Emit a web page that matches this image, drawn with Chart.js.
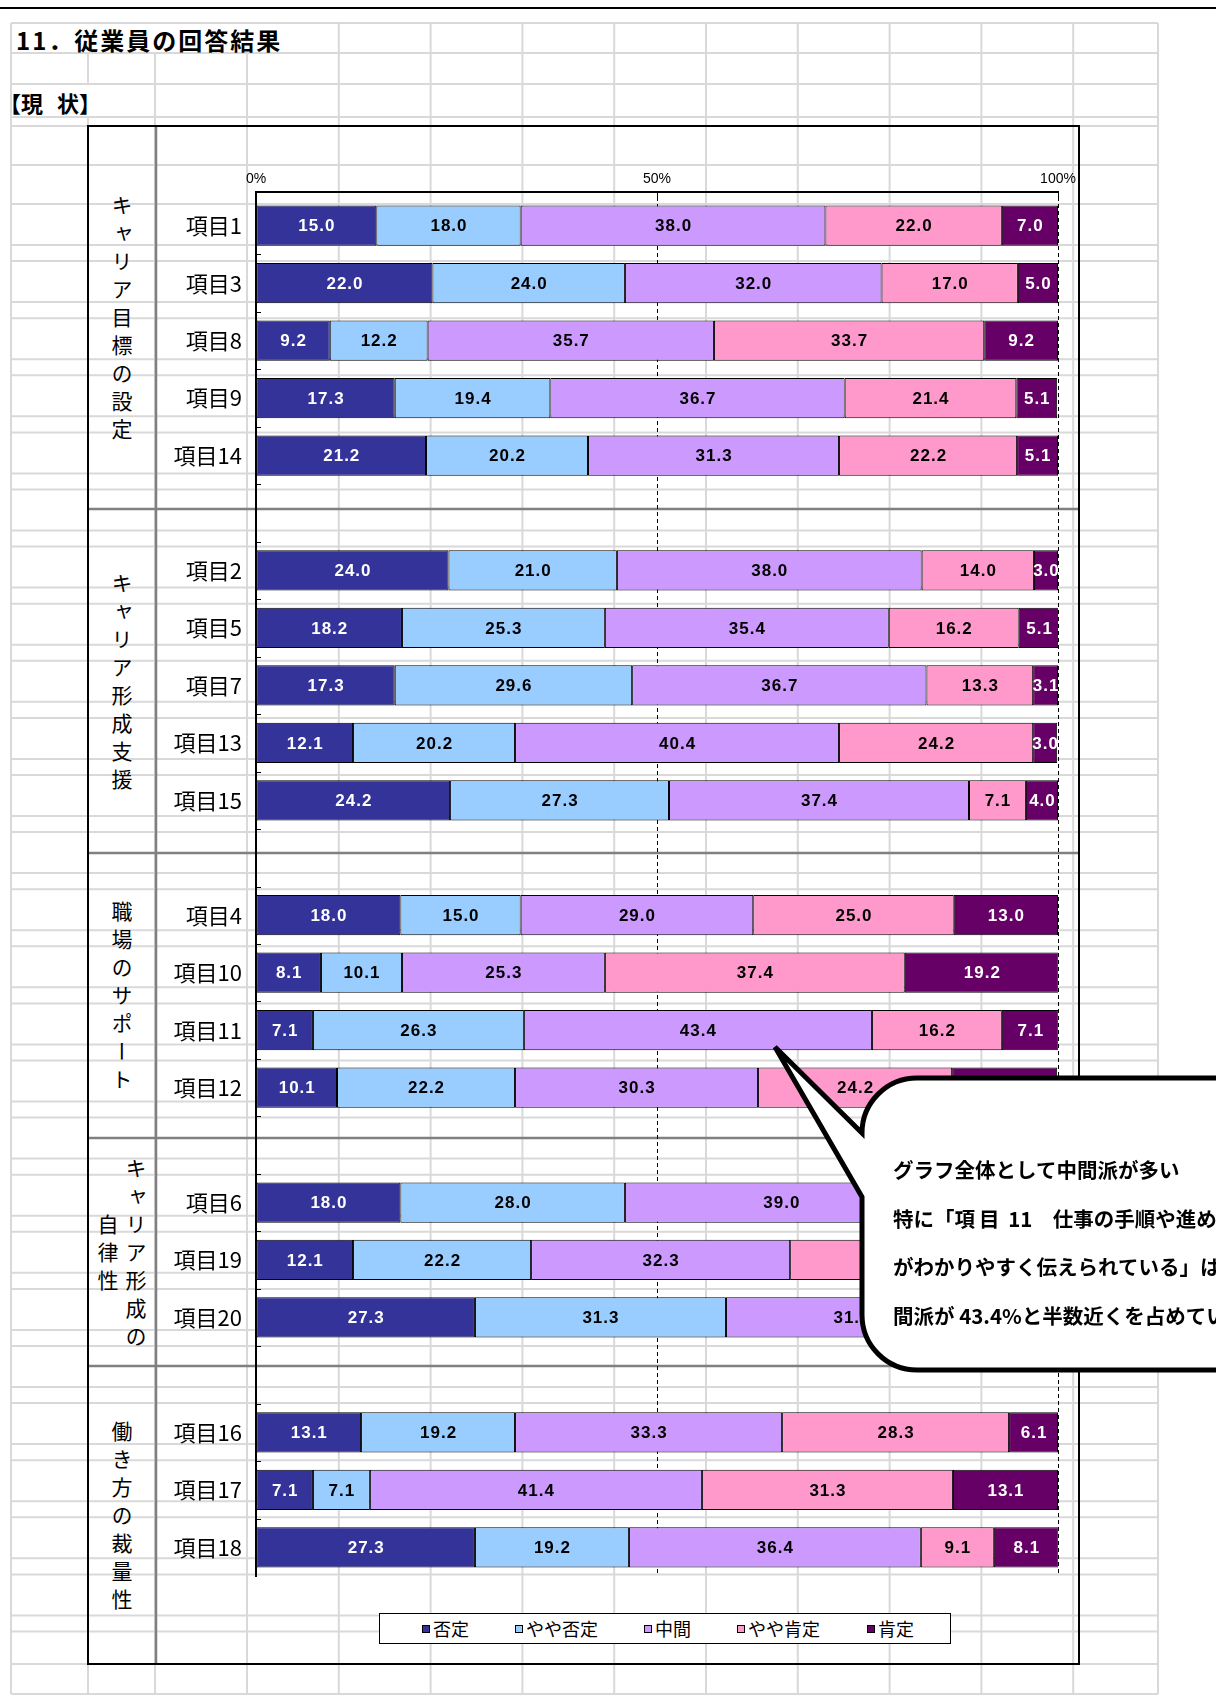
<!DOCTYPE html>
<html lang="ja">
<head>
<meta charset="utf-8">
<title>11. 従業員の回答結果</title>
<script src="https://cdn.jsdelivr.net/npm/chart.js@4.4.1/dist/chart.umd.min.js"></script>
<style>
  html, body { margin: 0; padding: 0; background: #fff; overflow: hidden; }
  #page { position: relative; width: 1216px; height: 1707px; overflow: hidden;
          font-family: 'Noto Sans CJK JP', 'Noto Sans', sans-serif; color: #000; }
  #sheet, #chart, #bubble { position: absolute; left: 0; top: 0; }
  .cell-text { position: absolute; white-space: nowrap; font-weight: bold; }
  #title { left: 16px; top: 26px; font-size: 24px; line-height: 28px; letter-spacing: 2px; }
  #status { left: -1px; top: 88px; font-size: 22px; line-height: 28px; }
  #status .gap { display: inline-block; width: 14px; }
  .group { position: absolute; left: 88px; width: 68px; display: flex; align-items: center; justify-content: center; }
  .group span { writing-mode: vertical-rl; font-size: 21px; letter-spacing: 7px; line-height: 28px;
                text-align: center; margin-top: 7px; }
  #legend { position: absolute; left: 379px; top: 1613px; width: 570px; height: 29px;
            border: 1px solid #000; background: #fff; }
  .lg-item { position: absolute; top: 0; height: 29px; line-height: 29px; font-size: 18px; white-space: nowrap; }
  .lg-item i { display: inline-block; width: 6px; height: 6px; border: 1px solid #000;
               margin-right: 3px; vertical-align: 3px; }
  #note { position: absolute; left: 893px; top: 1145px; font-size: 20.5px; line-height: 48.7px;
          font-weight: bold; white-space: nowrap; }
  #note .wide { letter-spacing: 4px; }
</style>
</head>
<body>
<div id="page">
  <svg id="sheet" width="1216" height="1707"></svg>
  <div id="title" class="cell-text">11．従業員の回答結果</div>
  <div id="status" class="cell-text">【現<span class="gap"></span>状】</div>
  <div id="groups"></div>
  <canvas id="chart" width="1216" height="1707"></canvas>
  <div id="legend"></div>
  <svg id="bubble" width="1216" height="1707">
    <path d="M 775 1047 L 862 1197 L 862 1315 A 55 55 0 0 0 917 1370 L 1240 1370 L 1240 1078 L 917 1078 A 55 55 0 0 0 862 1133 Z"
          fill="#fff" stroke="#000" stroke-width="5" stroke-linejoin="miter"/>
  </svg>
  <div id="note">グラフ全体として中間派が多い<br>特に「<span class="wide">項目</span> 11　仕事の手順や進め方<br>がわかりやすく伝えられている」は、中<br>間派が 43.4%と半数近くを占めている。</div>
</div>
<script>
'use strict';

// ── Data ──
const categories = [
  '項目1', '項目3', '項目8', '項目9', '項目14', '',
  '項目2', '項目5', '項目7', '項目13', '項目15', '',
  '項目4', '項目10', '項目11', '項目12', '',
  '項目6', '項目19', '項目20', '',
  '項目16', '項目17', '項目18'
];
const seriesNames = ['否定', 'やや否定', '中間', 'やや肯定', '肯定'];
const negative     = [15.0, 22.0,  9.2, 17.3, 21.2, null, 24.0, 18.2, 17.3, 12.1, 24.2, null, 18.0,  8.1,  7.1, 10.1, null, 18.0, 12.1, 27.3, null, 13.1,  7.1, 27.3];
const slightlyNeg  = [18.0, 24.0, 12.2, 19.4, 20.2, null, 21.0, 25.3, 29.6, 20.2, 27.3, null, 15.0, 10.1, 26.3, 22.2, null, 28.0, 22.2, 31.3, null, 19.2,  7.1, 19.2];
const neutral      = [38.0, 32.0, 35.7, 36.7, 31.3, null, 38.0, 35.4, 36.7, 40.4, 37.4, null, 29.0, 25.3, 43.4, 30.3, null, 39.0, 32.3, 31.3, null, 33.3, 41.4, 36.4];
const slightlyPos  = [22.0, 17.0, 33.7, 21.4, 22.2, null, 14.0, 16.2, 13.3, 24.2,  7.1, null, 25.0, 37.4, 16.2, 24.2, null, 12.0, 26.3,  8.1, null, 28.3, 31.3,  9.1];
const positive     = [ 7.0,  5.0,  9.2,  5.1,  5.1, null,  3.0,  5.1,  3.1,  3.0,  4.0, null, 13.0, 19.2,  7.1, 13.1, null,  3.0,  7.1,  2.0, null,  6.1, 13.1,  8.1];
const seriesValues = [negative, slightlyNeg, neutral, slightlyPos, positive];
const xTicks = [0, 50, 100];
const groupNames = ['キャリア目標の設定', 'キャリア形成支援', '職場のサポート', 'キャリア形成の\n自律性', '働き方の裁量性'];

// ── Styles ──
const seriesColors = ['#333399', '#99ccff', '#cc99ff', '#ff99cc', '#660066'];
const labelColors  = ['#fff', '#000', '#000', '#000', '#fff'];
const legendX = [42, 135, 264, 357, 487];

// table frame: outer box and the rules between groups
const TABLE = { left: 88, right: 1079, top: 126, bottom: 1664, split: 156 };
const groupRules = [509, 853, 1138, 1366];
const AXIS_TOP = 192;   // value axis line sits a little above the first category slot

// ── Spreadsheet background ──
(function drawSheet() {
  const svg = document.getElementById('sheet');
  const ns = 'http://www.w3.org/2000/svg';
  const line = (x1, y1, x2, y2, color, w) => {
    const l = document.createElementNS(ns, 'line');
    l.setAttribute('x1', x1); l.setAttribute('y1', y1);
    l.setAttribute('x2', x2); l.setAttribute('y2', y2);
    l.setAttribute('stroke', color); l.setAttribute('stroke-width', w);
    svg.appendChild(l);
  };
  const cols = [11, 88, 155];
  for (let k = 0; k < 10; k++) cols.push(247 + 91.8 * k);
  cols.push(1158);
  const rows = [23, 53, 84, 117, 126, 165];
  for (let k = 0; k < 25; k++) rows.push(204 + 57.1 * k, 245 + 57.1 * k);
  rows.push(1631.5, 1664, 1694);

  line(0, 8, 1216, 8, '#000', 2);

  const grey = '#d9d9d9';
  rows.forEach((y) => line(11, y, 1158, y, grey, 2));
  cols.forEach((x) => {
    if (x === 11 || x > 300) line(x, 23, x, 1694, grey, 2);
    else if (x === 88) { line(x, 53, x, 84, grey, 2); line(x, 117, x, 1694, grey, 2); }
    else line(x, 53, x, 1694, grey, 2);
  });

  // table frame
  line(TABLE.split, TABLE.top, TABLE.split, TABLE.bottom, '#808080', 2.5);
  groupRules.forEach((y) => line(TABLE.left, y, TABLE.right, y, '#808080', 2.5));
  const r = document.createElementNS(ns, 'rect');
  r.setAttribute('x', TABLE.left); r.setAttribute('y', TABLE.top);
  r.setAttribute('width', TABLE.right - TABLE.left); r.setAttribute('height', TABLE.bottom - TABLE.top);
  r.setAttribute('fill', 'none'); r.setAttribute('stroke', '#000'); r.setAttribute('stroke-width', 2);
  svg.appendChild(r);
})();

// ── Group captions (vertical) ──
(function drawGroups() {
  const box = document.getElementById('groups');
  const edges = [TABLE.top, ...groupRules, TABLE.bottom];
  groupNames.forEach((name, i) => {
    const d = document.createElement('div');
    d.className = 'group';
    d.style.top = edges[i] + 'px';
    d.style.height = (edges[i + 1] - edges[i]) + 'px';
    const s = document.createElement('span');
    s.innerHTML = name.replace('\n', '<br>');
    d.appendChild(s);
    box.appendChild(d);
  });
})();

// ── Legend ──
(function drawLegend() {
  const lg = document.getElementById('legend');
  seriesNames.forEach((name, k) => {
    const it = document.createElement('div');
    it.className = 'lg-item';
    it.style.left = legendX[k] + 'px';
    it.innerHTML = '<i style="background:' + seriesColors[k] + '"></i>' + name;
    lg.appendChild(it);
  });
})();

// ── Chart plugins ──
// axis frame: top value-axis line plus short inward ticks on the category axis
const axisFrame = {
  id: 'axisFrame',
  afterDraw(chart) {
    const y = chart.scales.y;
    const area = chart.chartArea;
    const ctx = chart.ctx;
    const step = y.getPixelForValue(1) - y.getPixelForValue(0);
    ctx.save();
    ctx.strokeStyle = '#000';
    ctx.lineWidth = 2;
    ctx.beginPath();
    ctx.moveTo(area.left - 1, AXIS_TOP);
    ctx.lineTo(area.right + 1, AXIS_TOP);
    ctx.moveTo(area.left, AXIS_TOP);
    ctx.lineTo(area.left, area.top + 1);
    ctx.stroke();
    ctx.lineWidth = 1;
    chart.scales.x.ticks.forEach((t) => {
      if (t.value === 0) return;
      const px = Math.round(chart.scales.x.getPixelForValue(t.value)) + 0.5;
      ctx.beginPath();
      ctx.moveTo(px, AXIS_TOP);
      ctx.lineTo(px, area.top);
      ctx.stroke();
    });
    for (let i = 0; i < categories.length - 1; i++) {
      const py = Math.round(y.getPixelForValue(i) + step / 2) + 0.5;
      ctx.beginPath();
      ctx.moveTo(area.left, py);
      ctx.lineTo(area.left + 5, py);
      ctx.stroke();
    }
    ctx.restore();
  }
};

// value labels centred in each segment
const barLabels = {
  id: 'barLabels',
  afterDatasetsDraw(chart) {
    const ctx = chart.ctx;
    ctx.save();
    ctx.font = 'bold 17px "Liberation Sans", Arial, sans-serif';
    ctx.textAlign = 'center';
    ctx.textBaseline = 'middle';
    if ('letterSpacing' in ctx) ctx.letterSpacing = '1px';
    chart.data.datasets.forEach((ds, di) => {
      const meta = chart.getDatasetMeta(di);
      meta.data.forEach((bar, i) => {
        const v = ds.data[i];
        if (v == null) return;
        ctx.fillStyle = labelColors[di];
        ctx.fillText(v.toFixed(1), (bar.x + bar.base) / 2 + 0.5, bar.y + 1);
      });
    });
    ctx.restore();
  }
};

// ── Chart ──
new Chart(document.getElementById('chart'), {
  type: 'bar',
  data: {
    labels: categories,
    datasets: seriesNames.map((name, k) => ({
      label: name,
      data: seriesValues[k],
      backgroundColor: seriesColors[k],
      borderColor: '#000',
      borderWidth: 1,
      borderSkipped: false,
      categoryPercentage: 1,
      barPercentage: 0.7,
    })),
  },
  options: {
    indexAxis: 'y',
    responsive: false,
    animation: false,
    layout: { padding: { left: 0, top: 0, right: 158, bottom: 131 } },
    plugins: { legend: { display: false }, tooltip: { enabled: false } },
    scales: {
      x: {
        position: 'top',
        stacked: true,
        min: xTicks[0],
        max: xTicks[xTicks.length - 1],
        afterBuildTicks: (s) => { s.ticks = xTicks.map((v) => ({ value: v })); },
        ticks: {
          callback: (v) => v + '%',
          color: '#000',
          padding: 9,
          maxRotation: 0,
          font: { family: "'Liberation Sans', Arial, sans-serif", size: 14 },
        },
        grid: {
          color: (c) => (c.tick && c.tick.value === 0 ? 'rgba(0,0,0,0)' : '#000'),
          lineWidth: 1,
          drawTicks: false,
        },
        border: { display: false, dash: [4, 3] },
        afterFit: (s) => { s.height = 197; },
      },
      y: {
        stacked: true,
        ticks: {
          autoSkip: false,
          color: '#000',
          padding: 14,
          font: { family: "'Noto Sans CJK JP', sans-serif", size: 22 },
        },
        grid: { display: false, drawTicks: false },
        border: { display: true, color: '#000', width: 2 },
        afterFit: (s) => { s.width = 256; },
      },
    },
  },
  plugins: [axisFrame, barLabels],
});
</script>
</body>
</html>
